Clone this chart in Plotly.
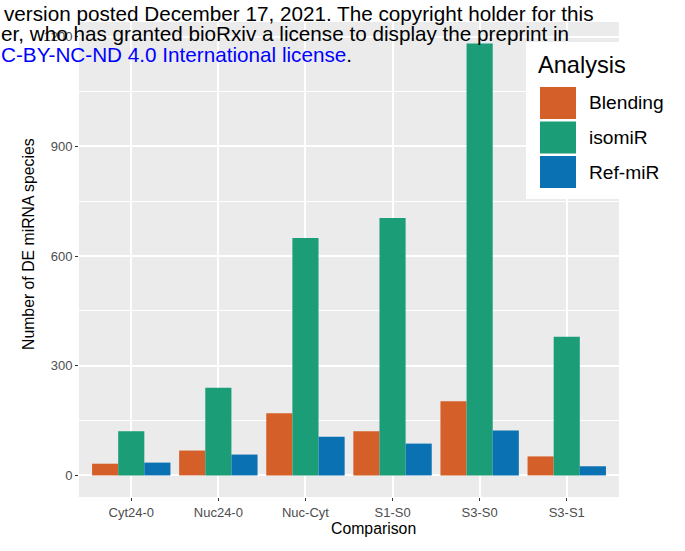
import plotly.graph_objects as go

# DE miRNA counts per comparison and analysis type
comparisons = ["Cyt24-0", "Nuc24-0", "Nuc-Cyt", "S1-S0", "S3-S0", "S3-S1"]
analyses = ["Blending", "isomiR", "Ref-miR"]
blending = [32, 68, 170, 121, 203, 52]
isomir = [121, 240, 649, 704, 1181, 379]
refmir = [35, 57, 106, 87, 123, 25]
colors = ["#D55F28", "#1B9E77", "#0A71B2"]
y_ticks = [0, 300, 600, 900, 1200]

W, H = 685, 551
L, R, T, B = 79, 619, 22, 497  # panel edges in pixels


def px_x(x):
    return (x - L) / (R - L)


def px_y(y):
    return (B - y) / (B - T)


series = [blending, isomir, refmir]
fig = go.Figure()
for name, vals, col in zip(analyses, series, colors):
    fig.add_trace(go.Bar(x=comparisons, y=vals, name=name, marker_color=col,
                         marker_line_width=0, showlegend=False))

ymax = max(isomir)
pad = 0.05 * ymax

font = "Liberation Sans, Arial, sans-serif"
fig.update_layout(
    width=W, height=H,
    margin=dict(l=L, r=W - R, t=T, b=H - B, pad=0),
    paper_bgcolor="white",
    plot_bgcolor="#EBEBEB",
    barmode="group", bargap=0.1, bargroupgap=0,
    font=dict(family=font, color="black"),
    xaxis=dict(
        tickfont=dict(size=13, color="#4D4D4D"),
        ticks="outside", ticklen=3, tickwidth=1.2, tickcolor="#333333",
        showgrid=True, gridcolor="white", gridwidth=1.6,
        showline=False, zeroline=False,
        range=[-0.6, len(comparisons) - 0.4],
    ),
    yaxis=dict(
        tickfont=dict(size=13, color="#4D4D4D"),
        tickvals=y_ticks,
        ticks="outside", ticklen=3, tickwidth=1.2, tickcolor="#333333",
        showgrid=True, gridcolor="white", gridwidth=1.6,
        minor=dict(dtick=150, tick0=0, showgrid=True, gridcolor="white", gridwidth=0.7),
        showline=False, zeroline=False,
        range=[-pad, ymax + pad],
    ),
)

annotations = [
    # axis titles
    dict(text="Comparison", xref="paper", yref="paper",
         x=px_x(373), y=px_y(528), xanchor="center", yanchor="middle",
         showarrow=False, font=dict(size=15.8, color="black")),
    dict(text="Number of DE miRNA species", xref="paper", yref="paper",
         x=px_x(29), y=px_y(244), xanchor="center", yanchor="middle", textangle=-90,
         showarrow=False, font=dict(size=15.8, color="black")),
]

# legend drawn on a white box overlapping the panel's right side
shapes = [dict(type="rect", xref="paper", yref="paper",
               x0=px_x(526), x1=px_x(700), y0=px_y(199), y1=px_y(42),
               fillcolor="white", line=dict(width=0), layer="above")]
annotations.append(dict(text="Analysis", xref="paper", yref="paper",
                        x=px_x(536), y=px_y(65), xanchor="left", yanchor="middle",
                        showarrow=False, font=dict(size=23.6, color="black")))
key_top = 87
key_h = 34.5
for i, (name, col) in enumerate(zip(analyses, colors)):
    y0 = key_top + i * key_h
    shapes.append(dict(type="rect", xref="paper", yref="paper",
                       x0=px_x(540), x1=px_x(576), y0=px_y(y0 + 32), y1=px_y(y0),
                       fillcolor=col, line=dict(width=0), layer="above"))
    annotations.append(dict(text=name, xref="paper", yref="paper",
                            x=px_x(587), y=px_y(y0 + 16), xanchor="left", yanchor="middle",
                            showarrow=False, font=dict(size=19.2, color="black")))

# preprint notice printed across the top
notice = [
    ("version posted December 17, 2021. The copyright holder for this", 2, 13),
    ("er, who has granted bioRxiv a license to display the preprint in", -1, 33),
    ('<span style="color:#0000FF">C-BY-NC-ND 4.0 International license</span>.', -1, 54),
]
for txt, x, y in notice:
    annotations.append(dict(text=txt, xref="paper", yref="paper",
                            x=px_x(x), y=px_y(y), xanchor="left", yanchor="middle",
                            showarrow=False, font=dict(size=20.7, color="black")))

fig.update_layout(shapes=shapes, annotations=annotations)
fig.write_html("out.html")
